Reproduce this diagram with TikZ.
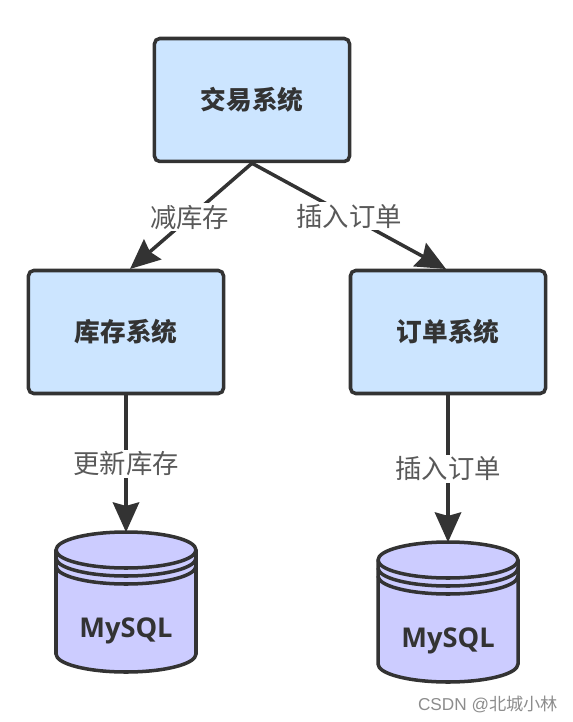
\documentclass[tikz,border=0pt]{standalone}
\usepackage{fontspec}
\usepackage{xcolor}
\usepackage{tikz}
\usetikzlibrary{arrows.meta}
\setmainfont{Liberation Sans}
\newfontfamily\cjk{Noto Sans CJK SC}
\newfontfamily\dbfont{Open Sans}
\definecolor{boxblue}{HTML}{CCE5FF}
\definecolor{dbpurple}{HTML}{CCCCFF}
\definecolor{edgegray}{HTML}{333333}
\tikzset{
    sysbox/.style={draw=edgegray, fill=boxblue, line width=2pt, rounded corners=3pt, minimum width=111pt, minimum height=70pt, inner sep=0pt, text=edgegray, font=\cjk\bfseries\fontsize{14.6}{16}\selectfont},
    dbnode/.style={minimum width=80pt, minimum height=79pt, inner sep=0pt, text=edgegray, font=\dbfont\bfseries\fontsize{15.5}{17}\selectfont},
    flow/.style={draw=edgegray, line width=2pt, -{Stealth[length=17pt, width=15pt, inset=2pt]}},
    flowlabel/.style={fill=white, inner sep=1pt, text=black!65, font=\cjk\fontsize{15}{16}\selectfont},
    pics/dbcyl/.style={code={
        \draw[draw=edgegray, fill=dbpurple, line width=2pt] (-70,-52) -- (-70,52) arc[start angle=180, end angle=0, x radius=70, y radius=18] -- (70,-52) arc[start angle=0, end angle=-180, x radius=70, y radius=18] -- cycle;
        \foreach \ringy in {-52,-44,-36}
            \draw[draw=edgegray, line width=2pt] (-70,\ringy) arc[start angle=180, end angle=0, x radius=70, y radius=18];
    }}
}

\begin{document}
\begin{tikzpicture}[x=0.02cm, y=-0.02cm]
    \useasboundingbox (0,0) rectangle (572,722);

    \pic at (126,602) {dbcyl};
    \pic at (448,612) {dbcyl};

    \node[sysbox] (trade) at (252,100) {交易系统};
    \node[sysbox] (stock) at (126,332) {库存系统};
    \node[sysbox] (order) at (448,332) {订单系统};
    \node[dbnode] (stockdb) at (126,602) {\raisebox{-20pt}[0pt][0pt]{MySQL}};
    \node[dbnode] (orderdb) at (448,612) {\raisebox{-20pt}[0pt][0pt]{MySQL}};

    \draw[flow] (trade.south) -- (130,269) node[flowlabel, pos=0.51] (cutlabel) {减库存};
    \draw[flow] (trade.south) -- (446,269) node[flowlabel, pos=0.5] (insertlabel) {插入订单};
    \draw[flow] (stock.south) -- (stockdb.north) node[flowlabel, pos=0.5] (updatelabel) {更新库存};
    \draw[flow] (order.south) -- (orderdb.north) node[flowlabel, pos=0.5] (insertlabeltwo) {插入订单};

    \node[text=black!45, inner sep=0pt, font=\fontsize{9.8}{11}\selectfont] (mark) at (488,704) {CSDN @{\cjk 北城小林}};
\end{tikzpicture}
\end{document}
